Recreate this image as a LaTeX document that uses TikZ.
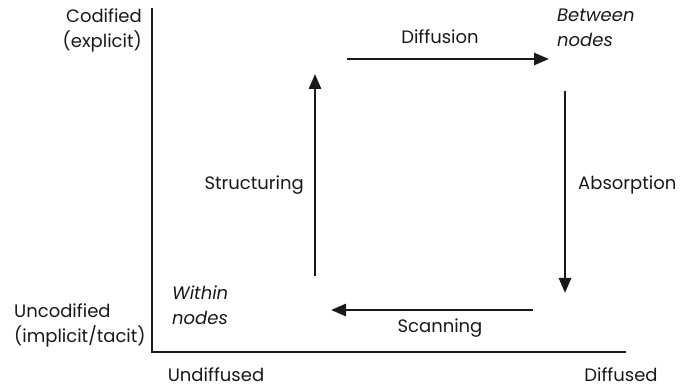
\documentclass[tikz,border=0pt]{standalone}
\usepackage{fontspec}
\setmainfont{Poppins}
\usetikzlibrary{arrows.meta}
\begin{document}
\begin{tikzpicture}[x=1pt,y=-1pt,
  lbl/.style={inner sep=0pt, font=\fontsize{18}{25}\selectfont, text=black!90},
  ilbl/.style={lbl, font=\fontsize{18}{25}\selectfont\itshape, align=left},
  axis/.style={line width=1.5pt, black!90},
  flow/.style={line width=2.8pt, black!90, -{Triangle[length=15pt,width=12pt]}}]
\useasboundingbox (0,0) rectangle (680,387);
% axes
\coordinate (top) at (152,8);
\coordinate (orig) at (152,352);
\coordinate (right) at (626,352);
\draw[axis] (top) -- (orig) -- (right);
% axis labels
\node[lbl, align=right, anchor=north east] (cod) at (142,9) {Codified\\(explicit)};
\node[lbl, align=left, anchor=north west] (uncod) at (14,304) {Uncodified\\(implicit/tacit)};
\node[lbl, anchor=base] (undiff) at (216,381) {Undiffused};
\node[lbl, anchor=base] (diff) at (621,381) {Diffused};
% corner labels
\node[ilbl, anchor=north west] (between) at (557,9) {Between\\nodes};
\node[ilbl, anchor=north west] (within) at (172,286) {Within\\nodes};
% arrow endpoints
\coordinate (d1) at (347,59); \coordinate (d2) at (549,59);
\coordinate (a1) at (565,91); \coordinate (a2) at (565,293);
\coordinate (s1) at (533,310); \coordinate (s2) at (331,310);
\coordinate (t1) at (315,276); \coordinate (t2) at (315,74);
\draw[flow] (d1) -- (d2);
\draw[flow] (a1) -- (a2);
\draw[flow] (s1) -- (s2);
\draw[flow] (t1) -- (t2);
% flow labels
\node[lbl, anchor=base] (ldiff) at (440,44) {Diffusion};
\node[lbl, anchor=base east] (lstruct) at (304,190) {Structuring};
\node[lbl, anchor=base west] (labs) at (578,190) {Absorption};
\node[lbl, anchor=base] (lscan) at (440,332) {Scanning};
\end{tikzpicture}
\end{document}
